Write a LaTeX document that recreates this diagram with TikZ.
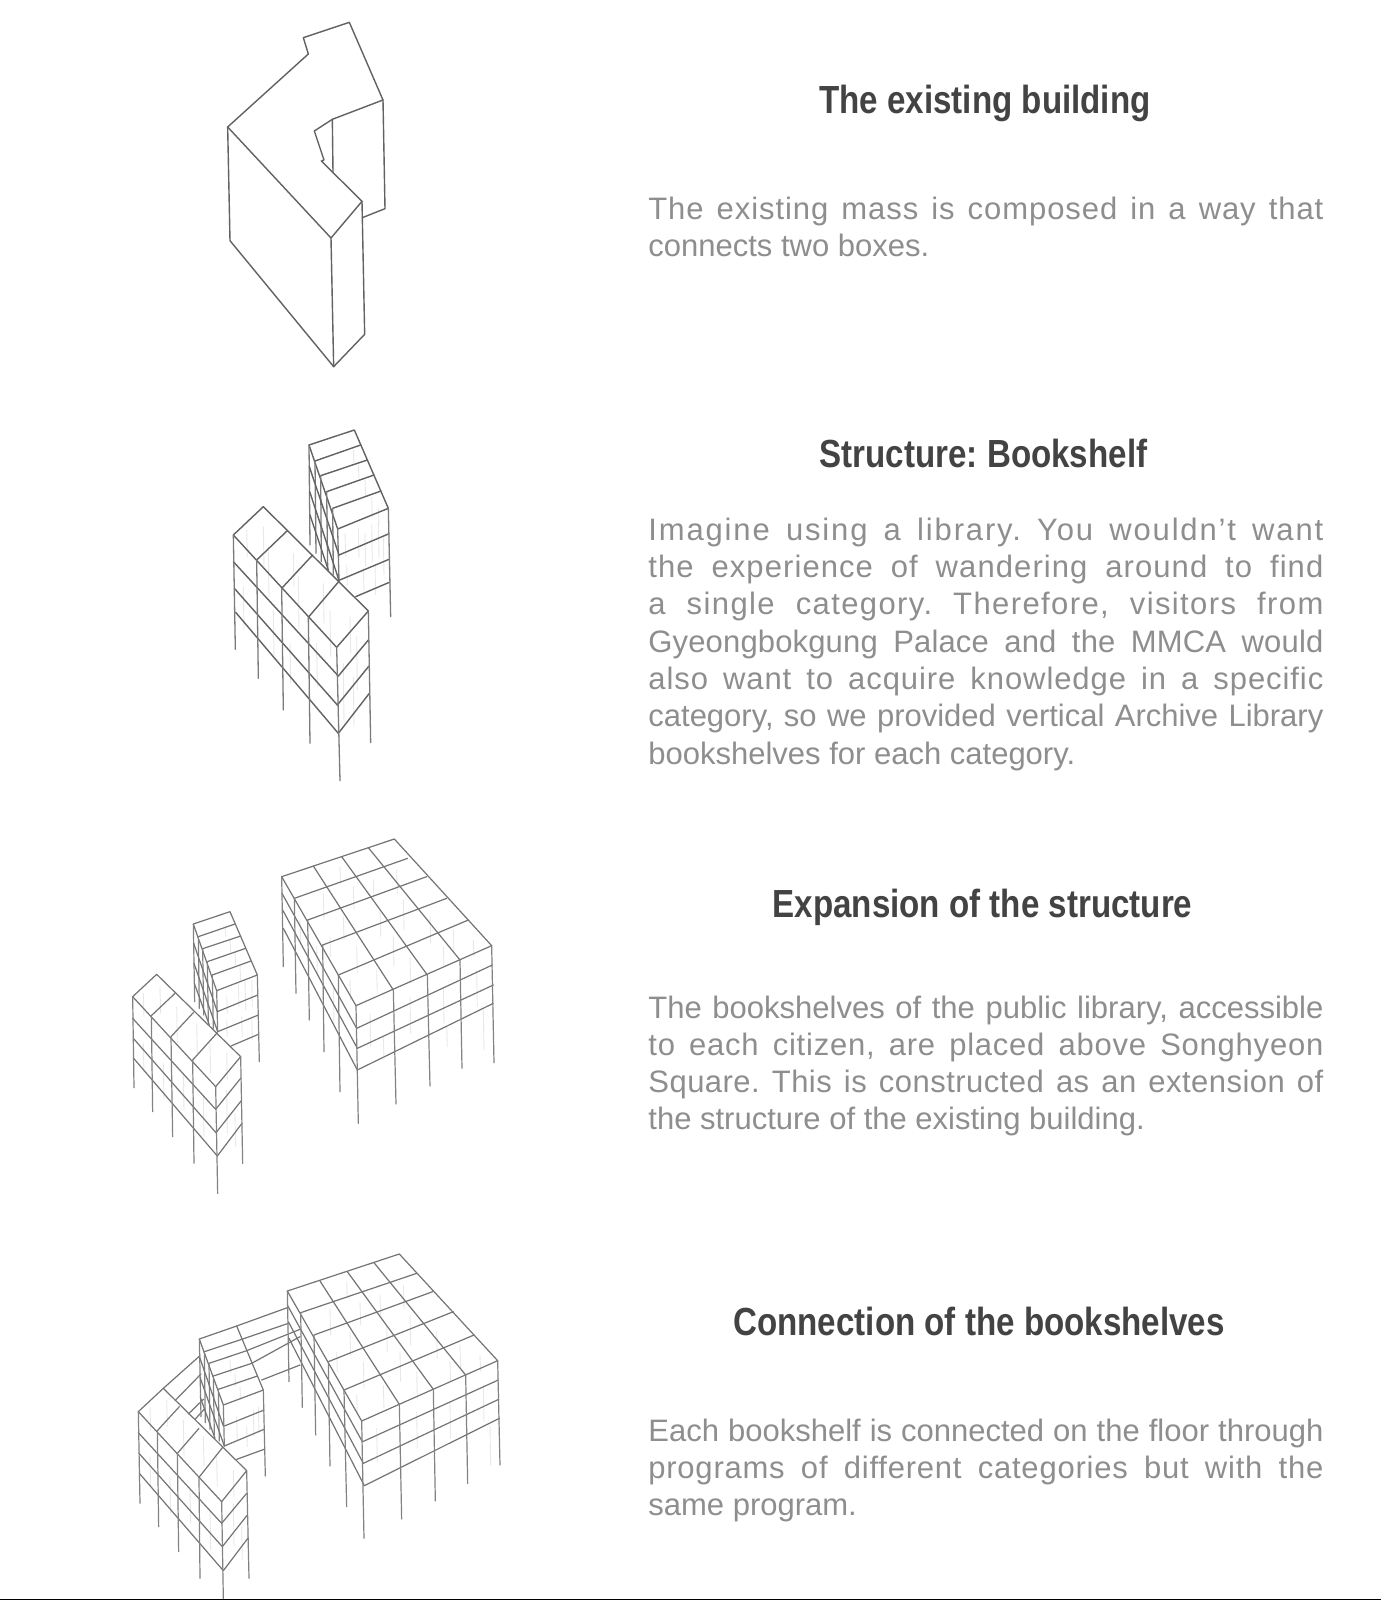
\documentclass[tikz,border=0pt]{standalone}
\usepackage{fontspec}
\setmainfont{Liberation Sans}[Ligatures=NoCommon]
\newfontfamily\ttlfont[FakeStretch=0.845]{Liberation Sans}
\definecolor{ttlcol}{HTML}{434343}
\definecolor{bodycol}{HTML}{8E8E8E}
\definecolor{linecol}{HTML}{626262}
\definecolor{lightcol}{HTML}{747474}
\definecolor{faintcol}{HTML}{E8E8E8}
\newlength{\bodywidth}\setlength{\bodywidth}{337.5pt}
\newcommand{\jl}[2]{\hbox to \bodywidth{\addfontfeature{LetterSpace=#1}#2}}
\newcommand{\nl}[1]{\hbox{#1}}
\newcommand{\paralines}[2][18.55pt]{\vtop{\baselineskip=#1\lineskiplimit=-20pt #2}}
\tikzset{
  wire/.style={draw=linecol,line width=0.7pt,line join=round,line cap=round},
  post/.style={draw=linecol!85,line width=0.65pt,line cap=round},
  faint/.style={draw=faintcol,line width=0.45pt},
  lighter/.style={wire/.append style={draw=lightcol,line width=0.6pt},post/.append style={draw=lightcol!90,line width=0.6pt}},
  title/.style={anchor=base,inner sep=0pt,text=ttlcol,font=\frenchspacing\ttlfont\bfseries\fontsize{19.6pt}{22pt}\selectfont},
  bodytext/.style={anchor=base west,inner sep=0pt,text=bodycol,font=\frenchspacing\fontsize{15.5pt}{18.55pt}\selectfont},
}
\begin{document}
\begin{tikzpicture}[x=0.5pt,y=-0.5pt]
\useasboundingbox (0,0) rectangle (1381,1600);
\fill[white] (0,0) rectangle (1381,1600);
\fill[black] (0,1598.6) rectangle (1381,1600);

% ---- building 1
\begin{scope}[shift={(200,0)},scale=0.33333]
\draw[wire] (310,113)--(448,67)--(549,300)--(397,358)--(343,393)--(372,480)--(364,483)--(486,604)--(393,714)--(83,381)--(325,162)--cycle;
\draw[wire] (83,381)--(90,722)--(401,1100)--(494,1003)--(486,604);
\draw[wire] (393,714)--(401,1100);
\draw[wire] (397,358)--(399,517);
\draw[wire] (549,300)--(555,626)--(487,653);
\end{scope}

% ---- building 2 : front block
\begin{scope}[shift={(210,410)},scale=0.33333]
\foreach \x/\y/\l in {110/360/80,160/350/120,175/420/140,250/430/100,265/500/160,340/520/120,360/600/140,420/620/110,440/680/160,100/530/130,190/600/150,320/700/130,240/700/120,400/760/180,430/800/150}
  \draw[faint] (\x,\y)--++(2,\l);
\draw[wire] (160,290)--(475,603)--(380,712)--(70,375)--cycle;
\draw[wire] (232,362)--(140,450) (308,435)--(215,535) (386,515)--(295,622);
\draw[wire] (70,455)--(385,798) (73,535)--(382,885) (77,607)--(385,970);
\draw[wire] (475,690)--(385,798) (477,768)--(382,885) (478,850)--(385,970);
\draw[post] (70,375)--(76,718) (140,450)--(145,805) (215,535)--(220,900) (295,622)--(300,1000) (380,712)--(390,1112) (475,603)--(482,998);
\end{scope}
% ---- building 2 : tower
\begin{scope}[shift={(300,425)},scale=0.33333]
\foreach \x/\y/\l in {160/75/40,175/120/40,195/165/50,215/215/60,235/250/50,135/325/70,175/310/90,195/325/100,215/300/110,235/290/110,250/330/120,140/420/60,190/430/70,225/420/90}
  \draw[faint] (\x,\y)--++(2,\l);
\draw[wire] (27,60)--(163,15)--(265,250)--(113,312)--cycle;
\draw[wire] (45,108)--(182,60) (62,152)--(202,105) (80,200)--(222,150) (98,250)--(243,198);
\draw[wire] (117,390)--(265,327) (117,466)--(267,403) (167,515)--(268,472);
\draw[post] (113,312)--(117,466) (265,250)--(272,575) (27,60)--(30,360) (45,108)--(48,385) (62,152)--(64,410) (80,200)--(83,430) (98,250)--(100,448);
\draw[wire] (28,125)--(117,390) (29,200)--(117,466) (30,270)--(85,435);
\end{scope}

% ---- building 3 : front block
\begin{scope}[shift={(110,830)},scale=0.33333,lighter]
\foreach \x/\y/\l in {100/490/70,150/470/80,200/530/110,260/580/90,300/640/90,350/670/80,100/640/90,160/700/110,220/730/110,280/800/120,350/780/130,375/850/100}
  \draw[faint] (\x,\y)--++(2,\l);
\draw[wire] (140,433)--(392,680)--(317,770)--(68,500)--cycle;
\draw[wire] (195,490)--(124,557) (250,548)--(183,620) (322,608)--(248,690);
\draw[wire] (68,565)--(317,838) (70,625)--(318,908) (71,685)--(322,978);
\draw[wire] (392,745)--(317,838) (394,812)--(318,908) (396,880)--(322,978);
\draw[post] (68,500)--(72,773) (124,557)--(128,845) (183,620)--(188,920) (248,690)--(252,1000) (317,770)--(323,1090) (392,680)--(398,1000);
\end{scope}
% ---- building 3 : tower
\begin{scope}[shift={(180,900)},scale=0.33333,lighter]
\foreach \x/\y/\l in {135/80/30,150/115/40,165/155/40,180/195/50,140/290/50,175/250/70,195/240/90,215/240/80,140/360/50,185/350/60,215/350/70}
  \draw[faint] (\x,\y)--++(2,\l);
\draw[wire] (40,72)--(150,35)--(232,225)--(110,272)--cycle;
\draw[wire] (55,110)--(165,72) (68,146)--(182,108) (82,185)--(197,145) (97,225)--(213,183);
\draw[wire] (112,335)--(233,285) (113,395)--(235,345) (153,438)--(235,403);
\draw[post] (110,272)--(113,395) (232,225)--(238,485) (40,72)--(44,305) (55,110)--(58,325) (68,146)--(71,345) (82,185)--(85,365) (97,225)--(100,385);
\draw[wire] (41,130)--(112,335) (42,190)--(113,395) (43,250)--(88,375);
\end{scope}
% ---- building 3 : large block
\begin{scope}[shift={(110,830)},scale=0.33333,lighter]
\foreach \x/\y/\l in {690/110/50,730/170/70,790/150/60,860/120/70,640/190/80,700/260/70,810/240/80,880/210/90,660/320/60,740/350/80,850/320/90,960/260/80,1030/300/70,720/450/60,800/420/70,900/380/80,1000/350/60,1090/330/50,780/550/100,900/500/110,1000/470/110,1100/420/110,1120/540/120,820/620/70,1010/590/60,570/270/70,620/350/80,670/470/110}
  \draw[faint] (\x,\y)--++(2,\l);
\draw[wire] (515,140)--(853,27)--(1145,347)--(738,527)--cycle;
\draw[wire] (553,205)--(893,85) (593,270)--(950,140) (638,345)--(1010,205) (685,435)--(1075,270);
\draw[wire] (610,108)--(850,480) (695,80)--(952,435) (775,53)--(1050,390);
\draw[wire] (740,595)--(1147,405) (742,655)--(1150,465) (742,720)--(1150,520);
\draw[wire] (516,190)--(740,595) (518,240)--(742,655) (520,295)--(742,720);
\draw[post] (515,140)--(520,410) (553,205)--(558,490) (593,270)--(598,570) (638,345)--(642,665) (685,435)--(690,785) (738,527)--(745,880) (850,480)--(858,822) (952,435)--(960,768) (1050,390)--(1056,715) (1145,347)--(1152,698);
\end{scope}

% ---- building 4
\begin{scope}[shift={(120,1240)},scale=0.33333,lighter]
% faint hatching
\foreach \x/\y/\l in {90/500/70,140/480/80,190/540/110,250/590/90,290/650/90,340/690/80,90/650/90,150/710/110,210/740/110,270/810/120,340/790/130,365/860/100,330/360/40,345/400/40,360/440/40,380/560/60,400/510/80,415/500/80,350/530/70,680/125/50,720/185/70,780/165/60,850/135/70,630/205/80,690/275/70,800/255/80,870/225/90,650/335/60,730/365/80,840/335/90,950/275/80,1020/315/70,710/465/60,790/435/70,890/395/80,990/365/60,1080/345/50,770/565/100,890/515/110,990/485/110,1090/435/110,1110/555/120}
  \draw[faint] (\x,\y)--++(2,\l);
% front block
\draw[wire] (130,445)--(380,692)--(305,785)--(55,515)--cycle;
\draw[wire] (178,500)--(112,572) (237,565)--(172,640) (308,622)--(237,712);
\draw[wire] (55,578)--(305,850) (57,640)--(307,920) (58,700)--(310,992);
\draw[wire] (380,760)--(305,850) (382,825)--(307,920) (385,893)--(310,992);
\draw[post] (55,515)--(60,790) (112,572)--(116,860) (172,640)--(176,935) (237,712)--(240,1015) (305,785)--(310,1075) (380,692)--(387,1015);
% left bridges
\draw[wire] (130,445)--(240,347) (165,482)--(243,402) (205,522)--(250,478) (225,538)--(255,505);
% tower
\draw[wire] (238,297)--(350,258)--(430,450)--(310,495)--cycle;
\draw[wire] (253,335)--(365,298) (267,370)--(380,332) (280,408)--(395,370) (295,448)--(412,408);
\draw[wire] (313,558)--(432,510) (313,618)--(432,568) (350,658)--(432,628);
\draw[post] (310,495)--(313,618) (430,450)--(436,708) (238,297)--(243,530) (253,335)--(256,548) (267,370)--(270,568) (280,408)--(283,585);
\draw[post] (295,448)--(298,603);
\draw[wire] (239,352)--(310,558) (240,412)--(313,618) (241,472)--(285,595);
% right bridges
\draw[wire] (350,258)--(502,203) (365,298)--(505,250) (380,332)--(540,268) (395,370)--(540,290) (425,420)--(540,375);
% large block
\draw[wire] (502,153)--(838,42)--(1133,362)--(725,543)--cycle;
\draw[wire] (542,218)--(890,100) (582,285)--(938,155) (625,365)--(1000,215) (672,450)--(1062,285);
\draw[wire] (600,123)--(838,493) (682,95)--(940,448) (762,68)--(1037,405);
\draw[wire] (728,605)--(1135,420) (730,670)--(1136,478) (733,737)--(1138,535);
\draw[wire] (502,195)--(727,605) (505,245)--(730,670) (507,295)--(733,737);
\draw[post] (502,153)--(507,425) (542,218)--(547,502) (582,285)--(587,585) (625,365)--(630,678) (672,450)--(680,800) (725,543)--(732,895) (838,493)--(845,837) (940,448)--(946,783) (1037,405)--(1043,730) (1133,362)--(1140,675);
\end{scope}

% ---- texts
\node[title] (t1) at (985,113) {The existing building};
\node[bodytext] (p1) at (648,219) {\paralines{%
  \jl{3}{The existing mass is composed in a way that}
  \nl{connects two boxes.}}};

\node[title] (t2) at (983.5,467.5) {Structure: Bookshelf};
\node[bodytext] (p2) at (648,540) {\paralines[18.68pt]{%
  \jl{6}{Imagine using a library. You wouldn’t want}
  \jl{3.5}{the experience of wandering around to find}
  \jl{4.5}{a single category. Therefore, visitors from}
  \jl{0.5}{Gyeongbokgung Palace and the MMCA would}
  \jl{3}{also want to acquire knowledge in a specific}
  \jl{0}{category, so we provided vertical Archive Library}
  \nl{bookshelves for each category.}}};

\node[title] (t3) at (982.5,917) {Expansion of the structure};
\node[bodytext] (p3) at (648,1018) {\paralines{%
  \jl{0}{The bookshelves of the public library, accessible}
  \jl{2.5}{to each citizen, are placed above Songhyeon}
  \jl{1.5}{Square. This is constructed as an extension of}
  \nl{the structure of the existing building.}}};

\node[title] (t4) at (979,1335) {Connection of the bookshelves};
\node[bodytext] (p4) at (648,1441) {\paralines{%
  \jl{0}{Each bookshelf is connected on the floor through}
  \jl{2.5}{programs of different categories but with the}
  \nl{same program.}}};
\end{tikzpicture}
\end{document}
